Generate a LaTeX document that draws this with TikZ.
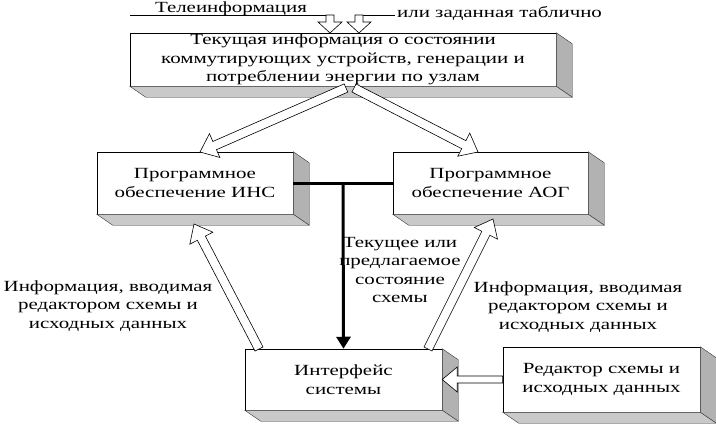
\documentclass[tikz,border=0pt]{standalone}
\usepackage{fontspec}
\setmainfont{Liberation Serif}[FakeStretch=1.35]
\usetikzlibrary{calc,arrows.meta}
\tikzset{
  txt/.style={font=\fontsize{15.5}{18.5}\selectfont},
  boxface/.style={txt, draw=black, line width=0.5pt, fill=white, inner sep=0pt, align=center},
  sideface/.style={fill=gray!60, draw=black!80, line width=0.4pt},
  botface/.style={fill=gray!42, draw=black!80, line width=0.4pt},
  hollow/.style={draw=black, fill=white, line width=0.6pt, line join=miter},
  lbl/.style={txt, align=center, inner sep=0pt},
  busline/.style={line width=3pt},
  thinline/.style={line width=0.8pt},
}
\newcommand\depthfaces[1]{%
  \filldraw[sideface] (#1.north east) -- ([shift={(16,11)}]#1.north east) -- ([shift={(16,11)}]#1.south east) -- (#1.south east) -- cycle;
  \filldraw[botface] (#1.south west) -- (#1.south east) -- ([shift={(16,11)}]#1.south east) -- ([shift={(16,11)}]#1.south west) -- cycle;
}
% from, to, shaft half width, head half width, head length
\newcommand\hollowarrow[5]{%
  \coordinate (hah) at ($(#2)!#5!(#1)$);
  \filldraw[hollow] ($(#1)!#3!90:(#2)$) -- ($(hah)!#3!90:(#2)$) -- ($(hah)!#4!90:(#2)$) -- (#2) -- ($(hah)!#4!-90:(#2)$) -- ($(hah)!#3!-90:(#2)$) -- ($(#1)!#3!-90:(#2)$) -- cycle;
}
\begin{document}
\begin{tikzpicture}[x=1pt,y=-1pt]
\fill[white] (0,0) rectangle (716,426);
\useasboundingbox (0,0) rectangle (716,426);

% boxes
\node[boxface, minimum width=426pt, minimum height=53pt] (cur) at (343,59.5)
  {Текущая информация о состоянии\\коммутирующих устройств, генерации и\\потреблении энергии по узлам};
\depthfaces{cur}
\node[boxface, minimum width=196pt, minimum height=62pt] (ins) at (195,183)
  {Программное\\обеспечение ИНС};
\depthfaces{ins}
\node[boxface, minimum width=195pt, minimum height=62pt] (aog) at (490.5,183)
  {Программное\\обеспечение АОГ};
\depthfaces{aog}
\node[boxface, minimum width=197pt, minimum height=61pt] (intf) at (343.5,379.5)
  {Интерфейс\\системы};
\depthfaces{intf}
\node[boxface, minimum width=197pt, minimum height=65pt] (edit) at (601.5,379.5)
  {Редактор схемы и\\исходных данных};
\depthfaces{edit}

% top inputs
\node[lbl, anchor=base] (tele) at (231,12) {Телеинформация};
\node[lbl, anchor=base west] (tab) at (397,17) {или заданная таблично};
\coordinate (telL) at (130,15);
\coordinate (tabR) at (395,15);
\coordinate (t1s) at (330,15);
\coordinate (t1e) at (330,33);
\coordinate (t2s) at (359,15);
\coordinate (t2e) at (359,33);
\draw[thinline] (telL) -- (t1s);
\draw[thinline] (t2s) -- (tabR);
\hollowarrow{t1s}{t1e}{4pt}{12pt}{11pt}
\hollowarrow{t2s}{t2e}{4pt}{12pt}{11pt}

% diagonal arrows from top box
\coordinate (d1s) at (346,88);
\coordinate (d1e) at (200,152);
\coordinate (d2s) at (354,88);
\coordinate (d2e) at (478,152);
\hollowarrow{d1s}{d1e}{4.5pt}{13pt}{16pt}
\hollowarrow{d2s}{d2e}{4.5pt}{13pt}{16pt}

% arrows from interface up
\coordinate (u1s) at (259,349);
\coordinate (u1e) at (194,224);
\coordinate (u2s) at (428,349);
\coordinate (u2e) at (493,219);
\hollowarrow{u1s}{u1e}{4.5pt}{13pt}{16pt}
\hollowarrow{u2s}{u2e}{4.5pt}{13pt}{16pt}

% editor -> interface
\hollowarrow{edit.west}{intf.east}{3.5pt}{12.5pt}{15pt}

% bus
\draw[busline] (ins.east) -- (aog.west);
\coordinate (busmid) at ($(ins.east)!0.5!(aog.west)$);
\draw[busline, -{Triangle[length=12pt,width=14pt]}] (busmid) -- (intf.north);

% labels
\node[lbl] (midtxt) at (400,270) {Текущее или\\предлагаемое\\состояние\\схемы};
\node[lbl] (lefttxt) at (108,306) {Информация, вводимая\\редактором схемы и\\исходных данных};
\node[lbl] (righttxt) at (578,307) {Информация, вводимая\\редактором схемы и\\исходных данных};
\end{tikzpicture}
\end{document}
